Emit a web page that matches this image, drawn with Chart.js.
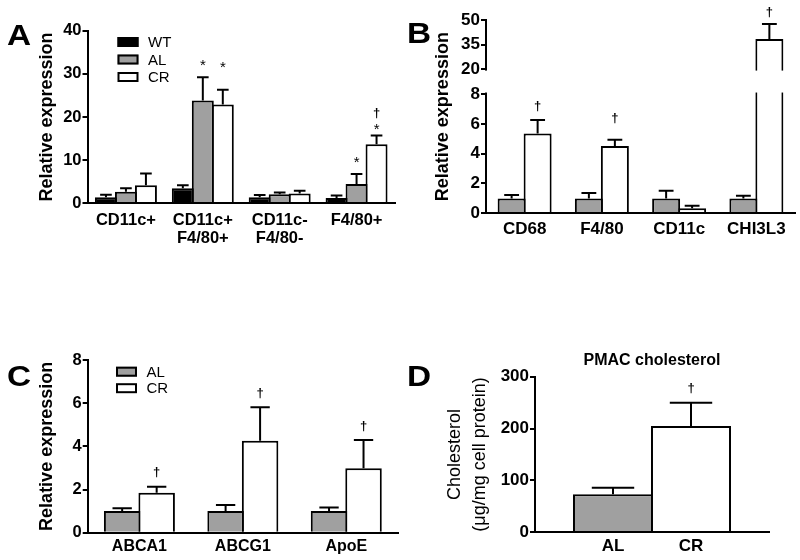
<!DOCTYPE html>
<html><head><meta charset="utf-8">
<script src="https://cdn.jsdelivr.net/npm/chart.js@4.4.1/dist/chart.umd.min.js"></script>
<style>
html,body{margin:0;padding:0;background:#fff;}
#wrap{position:relative;width:800px;height:560px;overflow:hidden;background:#fff;font-family:"Liberation Sans",Arial,sans-serif;}
.panel{position:absolute;width:400px;height:260px;}
.letter{position:absolute;font-weight:bold;font-size:29px;line-height:29px;color:#000;transform-origin:left top;transform:scaleX(1.15);}
</style></head><body>
<div id="wrap">
  <div class="panel" style="left:0;top:0"><canvas id="cA"></canvas></div>
  <div class="panel" style="left:400px;top:0"><canvas id="cB"></canvas></div>
  <div class="panel" style="left:0;top:300px"><canvas id="cC"></canvas></div>
  <div class="panel" style="left:400px;top:300px"><canvas id="cD"></canvas></div>
  <div class="letter" style="left:7px;top:21px">A</div>
  <div class="letter" style="left:407px;top:19px">B</div>
  <div class="letter" style="left:7px;top:362px">C</div>
  <div class="letter" style="left:407px;top:362px">D</div>
</div>
<script>
// ---------- Panel A data ----------
const catsA = ['CD11c+', ['CD11c+', 'F4/80+'], ['CD11c-', 'F4/80-'], 'F4/80+'];
const wtA = [1.4, 3.5, 1.4, 1.2];
const wtErrA = [0.6, 0.7, 0.5, 0.6];
const alA = [2.7, 23.8, 2.1, 4.5];
const alErrA = [0.8, 5.4, 0.4, 2.3];
const crA = [4.2, 22.9, 2.3, 13.7];
const crErrA = [2.7, 3.4, 0.6, 2.0];
const yTicksA = [0, 10, 20, 30, 40];
const sigA = [
  {series: 1, cat: 1, text: '*', at: 32.8},
  {series: 2, cat: 1, text: '*', at: 32.4},
  {series: 1, cat: 3, text: '*', at: 10.3},
  {series: 2, cat: 3, text: '*', at: 18.1},
  {series: 2, cat: 3, text: '†', at: 20.9}
];

// ---------- Panel B data ----------
const catsB = ['CD68', 'F4/80', 'CD11c', 'CHI3L3'];
const alB = [1.0, 1.0, 1.0, 1.0];
const alErrB = [0.23, 0.37, 0.52, 0.18];
const crB = [5.36, 4.51, 0.34, 38.4];
const crErrB = [0.9, 0.43, 0.16, 9.2];
const yTicksB = [0, 2, 4, 6, 8, 20, 35, 50];
const breakB = {lowMax: 8, highMin: 20};
const sigB = [
  {series: 1, cat: 0, text: '†', at: 7.2},
  {series: 1, cat: 1, text: '†', at: 6.37},
  {series: 1, cat: 3, text: '†', at: 55.1}
];

// ---------- Panel C data ----------
const catsC = ['ABCA1', 'ABCG1', 'ApoE'];
const alC = [1.0, 1.0, 1.0];
const alErrC = [0.13, 0.28, 0.17];
const crC = [1.85, 4.26, 2.98];
const crErrC = [0.28, 1.55, 1.31];
const yTicksC = [0, 2, 4, 6, 8];
const sigC = [
  {series: 1, cat: 0, text: '†', at: 2.79},
  {series: 1, cat: 1, text: '†', at: 6.45},
  {series: 1, cat: 2, text: '†', at: 4.93}
];

// ---------- Panel D data ----------
const catsD = ['AL', 'CR'];
const valsD = [73.2, 204.9];
const errD = [12.8, 44.9];
const yTicksD = [0, 100, 200, 300];
const sigD = [{series: 0, cat: 1, text: '†', at: 278}];

// ---------- styling ----------
const FONT = "'Liberation Sans', Arial, sans-serif";
const GRAY = '#a0a0a0';
const BLACK = '#000000';
const WHITE = '#ffffff';

// Broken linear scale for panel B
class BrokenLinearScale extends Chart.LinearScale {
  _segs() {
    const h = this.bottom - this.top;
    const lowH = h * 0.617, gapH = h * 0.129;
    return {lowH, gapH, highH: h - lowH - gapH};
  }
  getPixelForValue(value) {
    const s = this._segs();
    const b = this.bottom;
    if (value <= breakB.lowMax) return b - (value - this.min) / (breakB.lowMax - this.min) * s.lowH;
    if (value <= breakB.highMin) return b - s.lowH - (value - breakB.lowMax) / (breakB.highMin - breakB.lowMax) * s.gapH;
    return b - s.lowH - s.gapH - (value - breakB.highMin) / (this.max - breakB.highMin) * s.highH;
  }
  getValueForPixel(pixel) {
    const s = this._segs();
    const d = this.bottom - pixel;
    if (d <= s.lowH) return this.min + d / s.lowH * (breakB.lowMax - this.min);
    if (d <= s.lowH + s.gapH) return breakB.lowMax + (d - s.lowH) / s.gapH * (breakB.highMin - breakB.lowMax);
    return breakB.highMin + (d - s.lowH - s.gapH) / s.highH * (this.max - breakB.highMin);
  }
}
BrokenLinearScale.id = 'brokenLinear';
BrokenLinearScale.defaults = Chart.LinearScale.defaults;
Chart.register(BrokenLinearScale);

function valOf(d) { return (d !== null && typeof d === 'object') ? d.y : d; }

const errorBarPlugin = {
  id: 'errorBars',
  afterDatasetsDraw(chart) {
    const ctx = chart.ctx, ca = chart.chartArea, ys = chart.scales.y;
    chart.data.datasets.forEach((ds, di) => {
      if (!ds.err) return;
      const meta = chart.getDatasetMeta(di);
      meta.data.forEach((bar, i) => {
        const v = valOf(ds.data[i]), e = ds.err[i];
        if (v == null || e == null) return;
        const y0 = ys.getPixelForValue(v), y1 = ys.getPixelForValue(v + e);
        const half = bar.width * 0.265;
        ctx.save();
        ctx.beginPath(); ctx.rect(ca.left, ca.top - 4, ca.width, ca.height + 4); ctx.clip();
        ctx.strokeStyle = BLACK; ctx.lineWidth = 2; ctx.lineCap = 'butt';
        ctx.beginPath();
        ctx.moveTo(bar.x, y0); ctx.lineTo(bar.x, y1);
        ctx.moveTo(bar.x - half, y1); ctx.lineTo(bar.x + half, y1);
        ctx.stroke();
        ctx.restore();
      });
    });
  }
};

function sigPlugin(marks) {
  return {
    id: 'sigMarks',
    afterDatasetsDraw(chart) {
      const ctx = chart.ctx, ys = chart.scales.y;
      ctx.save();
      ctx.fillStyle = BLACK; ctx.textAlign = 'center'; ctx.textBaseline = 'alphabetic';
      marks.forEach(m => {
        const bar = chart.getDatasetMeta(m.series).data[m.cat];
        const dagger = m.text === '†';
        const fs = dagger ? 13 : 15;
        ctx.font = (dagger ? 'bold ' : '') + fs + 'px ' + FONT;
        const yc = ys.getPixelForValue(m.at);
        ctx.fillText(m.text, bar.x, yc + (dagger ? 0.3 : 0.57) * fs);
      });
      ctx.restore();
    }
  };
}

function legendPlugin(dx, dy, gap) {
  return {
    id: 'boxLegend',
    afterDraw(chart) {
      const ctx = chart.ctx, ca = chart.chartArea;
      ctx.save();
      chart.data.datasets.forEach((ds, i) => {
        const x = ca.left + dx, y = ca.top + dy + i * gap;
        ctx.fillStyle = ds.backgroundColor; ctx.fillRect(x, y, 21, 10);
        ctx.strokeStyle = BLACK; ctx.lineWidth = 2; ctx.strokeRect(x + 1, y + 1, 19, 8);
        ctx.fillStyle = BLACK; ctx.font = '15px ' + FONT;
        ctx.textAlign = 'left'; ctx.textBaseline = 'middle';
        ctx.fillText(ds.label, x + 30.5, y + 6);
      });
      ctx.restore();
    }
  };
}

const breakBandPlugin = {
  id: 'breakBand',
  afterDraw(chart) {
    const ctx = chart.ctx, ca = chart.chartArea, ys = chart.scales.y;
    const yTop = ys.getPixelForValue(breakB.highMin) + 1.5;
    const yBot = ys.getPixelForValue(breakB.lowMax) - 1.5;
    ctx.save();
    ctx.fillStyle = WHITE;
    ctx.fillRect(ca.left - 3, yTop, chart.width - ca.left + 3, yBot - yTop);
    ctx.restore();
  }
};

function yAxis(o) {
  return {
    type: o.type || 'linear',
    min: o.min, max: o.max,
    afterBuildTicks: s => { s.ticks = o.ticks.map(v => ({value: v})); },
    afterFit: s => { s.width = o.width; },
    ticks: {autoSkip: false, color: BLACK, padding: 1, font: {family: FONT, size: o.fs, weight: 'bold'}},
    grid: {drawOnChartArea: false, drawTicks: true, tickLength: 5, color: BLACK, lineWidth: 2},
    border: {display: true, color: BLACK, width: 2, z: 1},
    title: {display: true, text: o.title, color: BLACK,
      font: {family: FONT, size: 18, weight: o.titleWeight || 'bold', lineHeight: o.titleLH || 1.2},
      padding: {top: o.titlePad, bottom: 0}}
  };
}

function xAxis(o) {
  return {
    afterFit: s => { s.height = o.height; },
    ticks: {color: BLACK, padding: o.pad, maxRotation: 0, minRotation: 0, autoSkip: false,
      font: {family: FONT, size: o.fs, weight: 'bold', lineHeight: o.lh || 1.2}},
    grid: {display: false, drawTicks: false},
    border: {display: true, color: BLACK, width: 2, z: 1}
  };
}

function baseOptions(padding, scales, extraPlugins) {
  return {
    responsive: true, maintainAspectRatio: false, animation: false,
    layout: {padding},
    plugins: Object.assign({legend: {display: false}, tooltip: {enabled: false}}, extraPlugins || {}),
    scales
  };
}

function barDs(label, data, err, color, catPct, barPct) {
  return {label, data, err, backgroundColor: color, borderColor: BLACK, borderWidth: 2,
    borderSkipped: 'start', categoryPercentage: catPct, barPercentage: barPct};
}

// ---------- Panel A ----------
new Chart(document.getElementById('cA'), {
  type: 'bar',
  data: {labels: catsA, datasets: [
    barDs('WT', wtA, wtErrA, BLACK, 0.78, 1.1),
    barDs('AL', alA, alErrA, GRAY, 0.78, 1.1),
    barDs('CR', crA, crErrA, WHITE, 0.78, 1.1)
  ]},
  options: baseOptions({top: 30.7, right: 5, left: 0, bottom: 0}, {
    x: Object.assign({type: 'category', offset: true}, xAxis({height: 56.7, pad: 8.5, fs: 16.5, lh: 1.06})),
    y: yAxis({min: 0, max: 40, ticks: yTicksA, width: 87.5, fs: 16.5, title: 'Relative expression', titlePad: 36.2})
  }),
  plugins: [errorBarPlugin, sigPlugin(sigA), legendPlugin(30, 6.3, 17.5)]
});

// ---------- Panel B ----------
new Chart(document.getElementById('cB'), {
  type: 'bar',
  data: {labels: catsB, datasets: [
    barDs('AL', alB, alErrB, GRAY, 0.673, 1.077),
    barDs('CR', crB, crErrB, WHITE, 0.673, 1.077)
  ]},
  options: baseOptions({top: 20, right: 5, left: 0, bottom: 0}, {
    x: Object.assign({type: 'category', offset: true}, xAxis({height: 46.7, pad: 5.5, fs: 17})),
    y: yAxis({type: 'brokenLinear', min: 0, max: 50, ticks: yTicksB, width: 86, fs: 17, title: 'Relative expression', titlePad: 32.2})
  }),
  plugins: [errorBarPlugin, sigPlugin(sigB), breakBandPlugin]
});

// ---------- Panel C ----------
new Chart(document.getElementById('cC'), {
  type: 'bar',
  data: {labels: catsC, datasets: [
    barDs('AL', alC, alErrC, GRAY, 0.667, 1.058),
    barDs('CR', crC, crErrC, WHITE, 0.667, 1.058)
  ]},
  options: baseOptions({top: 60, right: 2, left: 0, bottom: 0}, {
    x: Object.assign({type: 'category', offset: true}, xAxis({height: 27.3, pad: 4.2, fs: 16})),
    y: yAxis({min: 0, max: 8, ticks: yTicksC, width: 87.7, fs: 16.5, title: 'Relative expression', titlePad: 36.2})
  }),
  plugins: [errorBarPlugin, sigPlugin(sigC), legendPlugin(28.3, 6.7, 16.5)]
});

// ---------- Panel D ----------
new Chart(document.getElementById('cD'), {
  type: 'bar',
  data: {datasets: [{
    label: 'PMAC cholesterol',
    data: catsD.map((c, i) => ({x: i + 1, y: valsD[i]})),
    err: errD,
    backgroundColor: [GRAY, WHITE], borderColor: BLACK, borderWidth: 2, borderSkipped: 'start',
    categoryPercentage: 1, barPercentage: 1.026
  }]},
  options: baseOptions({top: 0, right: 31, left: 0, bottom: 0}, {
    x: Object.assign({type: 'linear', min: 0, max: 3, offset: false,
      afterBuildTicks: s => { s.ticks = catsD.map((c, i) => ({value: i + 1})); }},
      xAxis({height: 27.7, pad: 3.5, fs: 17}),
      {ticks: {color: BLACK, padding: 3.5, maxRotation: 0, autoSkip: false, includeBounds: false,
        font: {family: FONT, size: 17, weight: 'bold'},
        callback: v => catsD[v - 1] || ''}}),
    y: yAxis({min: 0, max: 300, ticks: yTicksD, width: 135, fs: 17,
      title: ['Cholesterol', '(μg/mg cell protein)'], titleWeight: 'normal', titleLH: 1.39, titlePad: 42.5})
  }, {
    title: {display: true, text: 'PMAC cholesterol', color: BLACK, fullSize: false,
      font: {family: FONT, size: 16, weight: 'bold'}, padding: {top: 51.4, bottom: 6.1}}
  }),
  plugins: [errorBarPlugin, sigPlugin(sigD)]
});
</script>
</body></html>
